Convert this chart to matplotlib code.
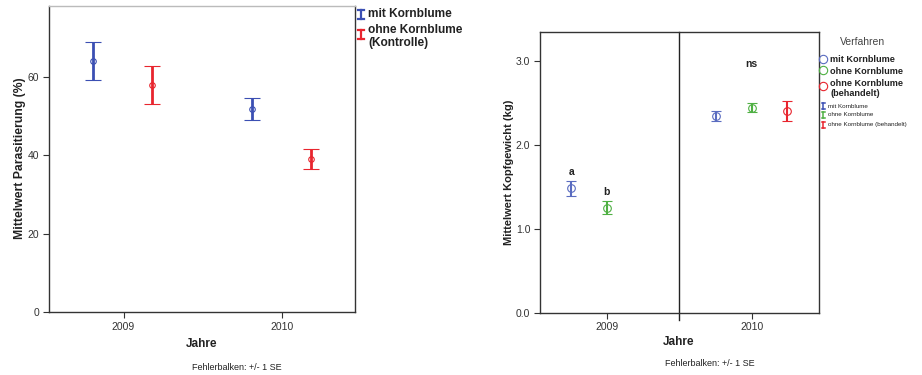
import matplotlib
matplotlib.use('Agg')
import matplotlib.pyplot as plt
from matplotlib.lines import Line2D

plt.rcParams.update({'font.family': 'Liberation Sans', 'font.size': 7})

# ---- data ----
years = ['2009', '2010']

# left: Parasitierung (%)
para_mit = [64.0, 51.7]
para_mit_se = [4.8, 2.85]
para_ohne = [57.8, 39.0]
para_ohne_se = [4.8, 2.55]

# right: Kopfgewicht (kg)
kopf_years = ['2009', '2010']
kopf_mit = [1.48, 2.34]
kopf_mit_se = [0.093, 0.058]
kopf_ohne = [1.25, 2.44]
kopf_ohne_se = [0.077, 0.054]
kopf_beh = [None, 2.40]
kopf_beh_se = [None, 0.12]
sig_labels = [('a', 0, -0.245, 1.68), ('b', 0, 0.0, 1.44), ('ns', 1, 0.0, 2.96)]

BLUE = '#3b4fb3'
RED = '#e8252e'
GREEN = '#4fb043'
BLUE2 = '#5a6cc0'
TXT = '#222222'

W, H = 922, 375
fig = plt.figure(figsize=(W / 100, H / 100), dpi=100)
fig.patch.set_facecolor('white')


def fx(px):
    return px / W


def fy(py):
    return 1 - py / H


def ibeam(x, y, h, color, cw=3, lw=1.4):
    # small error-bar glyph for the hand-made legends, in pixel coords
    fig.add_artist(Line2D([fx(x), fx(x)], [fy(y - h / 2), fy(y + h / 2)], color=color, lw=lw))
    for yy in (y - h / 2, y + h / 2):
        fig.add_artist(Line2D([fx(x - cw), fx(x + cw)], [fy(yy), fy(yy)], color=color, lw=lw))


def style(ax):
    for s in ax.spines.values():
        s.set_color('#333333')
        s.set_linewidth(1.0)
    ax.spines['top'].set_color('#bbbbbb')
    ax.tick_params(direction='out', length=4, width=0.8, color='#333333',
                   labelcolor='#333333', labelsize=7.5, pad=3)


# ================= LEFT =================
ax1 = fig.add_axes([fx(49), fy(312), fx(355) - fx(49), fy(6) - fy(312)])
xs = range(len(years))
ax1.errorbar([x - 0.19 for x in xs], para_mit, yerr=para_mit_se, fmt='o', mfc='none',
             mec=BLUE, ms=4, color=BLUE, ecolor=BLUE, elinewidth=2.0, capsize=5.5, capthick=2.0,
             markeredgewidth=0.8)
ax1.errorbar([x + 0.18 for x in xs], para_ohne, yerr=para_ohne_se, fmt='o', mfc='none',
             mec=RED, ms=4, color=RED, ecolor=RED, elinewidth=2.0, capsize=5.5, capthick=2.0,
             markeredgewidth=0.8)
ax1.set_xlim(-0.47, 1.46)
ax1.set_ylim(0, 78)
ax1.set_xticks(list(xs))
ax1.set_xticklabels(years)
ax1.set_yticks([0, 20, 40, 60])
style(ax1)
fig.text(fx(20), fy(158), 'Mittelwert Parasitierung (%)', rotation=90, ha='center', va='center',
         fontsize=8.8, fontweight='bold', color=TXT)
fig.text(fx(202), fy(344), 'Jahre', ha='center', va='center', fontsize=8.5, fontweight='bold', color=TXT)
fig.text(fx(237), fy(368), 'Fehlerbalken: +/- 1 SE', ha='center', va='center', fontsize=6.5, color=TXT)

# legend left
ibeam(361, 14, 9, BLUE, lw=1.6)
fig.text(fx(368), fy(14), 'mit Kornblume', fontsize=8.6, fontweight='bold', va='center', color=TXT)
ibeam(361, 34, 9, RED, lw=1.6)
fig.text(fx(368), fy(30), 'ohne Kornblume', fontsize=8.6, fontweight='bold', va='center', color=TXT)
fig.text(fx(368), fy(43), '(Kontrolle)', fontsize=8.6, fontweight='bold', va='center', color=TXT)

# ================= RIGHT =================
ax2 = fig.add_axes([fx(540), fy(312.7), fx(819) - fx(540), fy(32) - fy(312.7)])
for i in range(len(kopf_years)):
    ax2.errorbar([i - 0.245], [kopf_mit[i]], yerr=[kopf_mit_se[i]], fmt='o', mfc='none',
                 mec=BLUE2, ms=5.5, ecolor=BLUE2, elinewidth=1.5, capsize=3.8, capthick=1.5,
                 markeredgewidth=0.8)
    ax2.errorbar([i], [kopf_ohne[i]], yerr=[kopf_ohne_se[i]], fmt='o', mfc='none',
                 mec=GREEN, ms=5.5, ecolor=GREEN, elinewidth=1.5, capsize=3.8, capthick=1.5,
                 markeredgewidth=0.8)
    if kopf_beh[i] is not None:
        ax2.errorbar([i + 0.245], [kopf_beh[i]], yerr=[kopf_beh_se[i]], fmt='o', mfc='none',
                     mec=RED, ms=5.5, ecolor=RED, elinewidth=1.5, capsize=3.8, capthick=1.5,
                     markeredgewidth=0.8)
ax2.axvline(0.5, ymin=-0.027, ymax=1, color='#222222', lw=1.0, clip_on=False)
for lab, i, off, yv in sig_labels:
    ax2.text(i + off, yv, lab, ha='center', va='center', fontsize=7.5, fontweight='bold', color=TXT)
ax2.set_xlim(-0.46, 1.464)
ax2.set_ylim(0, 3.34)
ax2.set_xticks(range(len(kopf_years)))
ax2.set_xticklabels(kopf_years)
ax2.set_yticks([0, 1, 2, 3])
ax2.set_yticklabels(['0.0', '1.0', '2.0', '3.0'])
style(ax2)
ax2.spines['top'].set_color('#333333')
fig.text(fx(509), fy(172), 'Mittelwert Kopfgewicht (kg)', rotation=90, ha='center', va='center',
         fontsize=8, fontweight='bold', color=TXT)
fig.text(fx(679), fy(342), 'Jahre', ha='center', va='center', fontsize=8.5, fontweight='bold', color=TXT)
fig.text(fx(710), fy(363), 'Fehlerbalken: +/- 1 SE', ha='center', va='center', fontsize=6.5, color=TXT)

# legend right
fig.text(fx(863), fy(42), 'Verfahren', ha='center', va='center', fontsize=7.5, color='#444444')
for py, col in [(59, BLUE2), (70, GREEN), (86, RED)]:
    fig.add_artist(Line2D([fx(823)], [fy(py)], marker='o', mfc='none', mec=col, ms=6, mew=0.8))
fig.text(fx(830), fy(60), 'mit Kornblume', fontsize=6.6, fontweight='bold', va='center', color=TXT)
fig.text(fx(830), fy(71), 'ohne Kornblume', fontsize=6.6, fontweight='bold', va='center', color=TXT)
fig.text(fx(830), fy(83), 'ohne Kornblume', fontsize=6.6, fontweight='bold', va='center', color=TXT)
fig.text(fx(830), fy(93), '(behandelt)', fontsize=6.6, fontweight='bold', va='center', color=TXT)
for py, col, lab in [(106, BLUE, 'mit Kornblume'), (115, GREEN, 'ohne Kornblume'),
                     (125, RED, 'ohne Kornblume (behandelt)')]:
    ibeam(823, py, 6, col, cw=1.5, lw=1.1)
    fig.text(fx(828), fy(py), lab, fontsize=4.5, va='center', color=TXT)

fig.savefig('out.png', dpi=100, facecolor='white')
